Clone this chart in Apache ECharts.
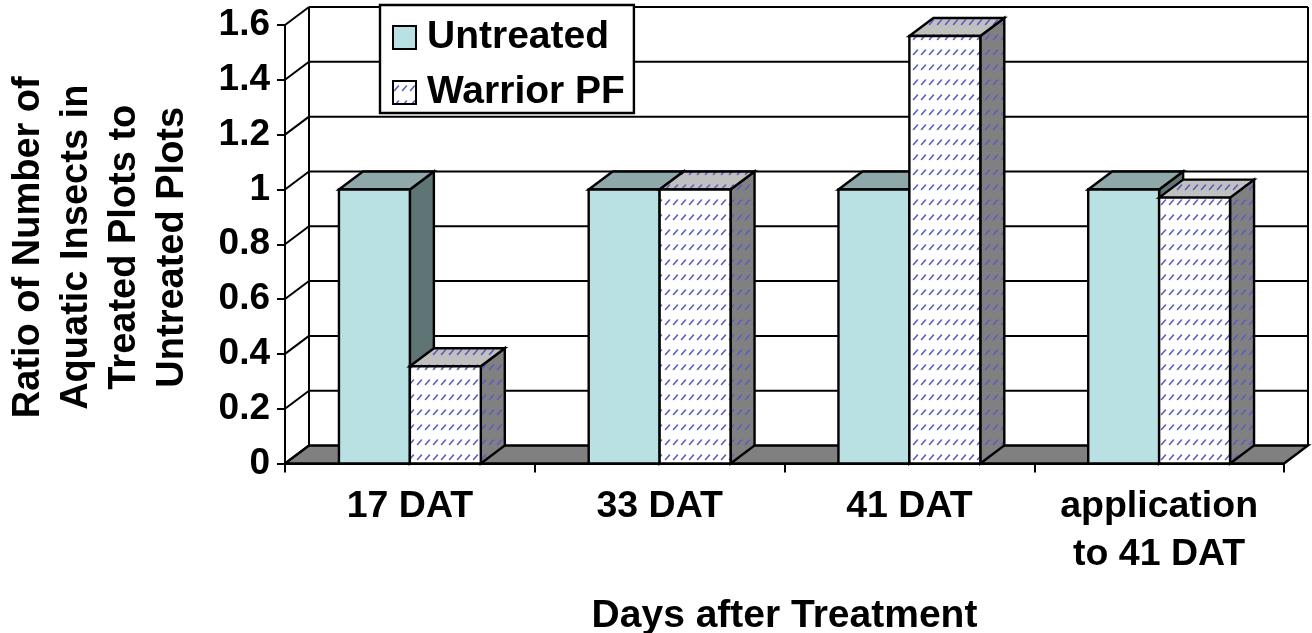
<!DOCTYPE html>
<html><head><meta charset="utf-8">
<style>html,body{margin:0;padding:0;background:#fff}#c{width:1312px;height:633px}</style>
<script src="https://cdn.jsdelivr.net/npm/echarts@6/dist/echarts.min.js"></script>
</head><body><div id="c"></div>
<script>
const categories = ['17 DAT', '33 DAT', '41 DAT', 'application\nto 41 DAT'];
const untreated = [1, 1, 1, 1];
const warriorPF = [0.355, 1, 1.56, 0.97];
const yTicks = [0, 0.2, 0.4, 0.6, 0.8, 1, 1.2, 1.4, 1.6];
const FONT = '"Liberation Sans", Arial, sans-serif';
const DX = 24, DY = -18;

function pattern(bg, dash, w, h) {
  const c = document.createElement('canvas');
  c.width = w; c.height = h;
  const g = c.getContext('2d');
  g.fillStyle = bg; g.fillRect(0, 0, w, h);
  g.strokeStyle = dash; g.lineWidth = 1.6; g.lineCap = 'round';
  g.beginPath();
  g.moveTo(1.5, 9.5); g.lineTo(5.5, 5);
  g.stroke();
  return c;
}
const pat = (bg) => ({ image: pattern(bg, '#5c5cc0', 8, 15), repeat: 'repeat' });
const frontPat = pat('#ffffff'), topPat = pat('#c0c0c0'), sidePat = pat('#808080');
const edge = { stroke: '#000', lineWidth: 2.4, lineJoin: 'miter' };

function bar3d(values, offset, fills) {
  return function (params, api) {
    const i = params.dataIndex;
    const band = api.size([1, 0])[0];
    const w = band * 0.284;
    const t = api.coord([i, values[i]]);
    const b = api.coord([i, 0]);
    const x0 = t[0] + offset * w, x1 = x0 + w, yt = t[1], yb = b[1];
    const poly = (pts, fill) => ({ type: 'polygon', shape: { points: pts }, style: Object.assign({ fill }, edge) });
    return { type: 'group', children: [
      poly([[x1, yt], [x1 + DX, yt + DY], [x1 + DX, yb + DY], [x1, yb]], fills.side),
      poly([[x0, yt], [x0 + DX, yt + DY], [x1 + DX, yt + DY], [x1, yt]], fills.top),
      poly([[x0, yt], [x1, yt], [x1, yb], [x0, yb]], fills.front)
    ] };
  };
}

const option = {
  animation: false,
  backgroundColor: '#fff',
  textStyle: { fontFamily: FONT },
  grid: { left: 285, right: 28, top: 25, height: 438.5, containLabel: false, outerBoundsMode: 'none' },
  legend: {
    left: 380, top: 5, orient: 'vertical', z: 20,
    backgroundColor: '#fff', borderColor: '#000', borderWidth: 2.4,
    padding: [13, 9, 1, 12], itemGap: 16, itemWidth: 23, itemHeight: 23,
    selectedMode: false,
    textStyle: { fontFamily: FONT, fontWeight: 'bold', fontSize: 39, color: '#000', padding: [6, 0, 0, 6] },
    data: [
      { name: 'Untreated', icon: 'rect', itemStyle: { color: '#b9e0e3', borderColor: '#000', borderWidth: 2 } },
      { name: 'Warrior PF', icon: 'rect', itemStyle: { color: frontPat, borderColor: '#000', borderWidth: 2 } }
    ]
  },
  xAxis: {
    type: 'category', data: categories, boundaryGap: true,
    axisLine: { show: true, lineStyle: { color: '#000', width: 2 } },
    axisTick: { show: true, alignWithLabel: false, length: 9, lineStyle: { color: '#000', width: 2 } },
    axisLabel: { interval: 0, margin: 19, fontFamily: FONT, fontWeight: 'bold', fontSize: 37.5, color: '#000', lineHeight: 48 },
    name: 'Days after Treatment', nameLocation: 'middle', nameGap: 133,
    nameTextStyle: { fontFamily: FONT, fontWeight: 'bold', fontSize: 39, color: '#000' },
    z: 5
  },
  yAxis: {
    type: 'value', min: 0, max: 1.6, interval: 0.2,
    axisLine: { show: true, lineStyle: { color: '#000', width: 2 } },
    axisTick: { show: true, length: 8, lineStyle: { color: '#000', width: 2 } },
    splitLine: { show: false },
    axisLabel: { margin: 15, fontFamily: FONT, fontWeight: 'bold', fontSize: 37, color: '#000', padding: [6, 0, 0, 0],
      formatter: v => String(Math.round(v * 10) / 10) },
    name: 'Ratio of Number of\nAquatic Insects in\nTreated Plots to\nUntreated Plots',
    nameLocation: 'middle', nameRotate: 90, nameGap: 88,
    nameTextStyle: { fontFamily: FONT, fontWeight: 'bold', fontSize: 38, color: '#000', lineHeight: 48, align: 'center', padding: [0, 6, 0, 0] },
    z: 5
  },
  series: [
    {
      name: 'wall', type: 'custom', silent: true, z: 1, data: yTicks,
      renderItem(params, api) {
        const v = yTicks[params.dataIndex];
        const band = api.size([1, 0])[0];
        const left = api.coord([0, v])[0] - band / 2;
        const right = left + band * categories.length;
        const y = api.coord([0, v])[1];
        const kids = [
          { type: 'line', shape: { x1: left, y1: y, x2: left + DX, y2: y + DY }, style: { stroke: '#000', lineWidth: 2 } }
        ];
        if (v === 0) {
          kids.unshift({ type: 'polygon', shape: { points: [[left, y], [left + DX, y + DY], [right + DX, y + DY], [right, y]] },
            style: Object.assign({ fill: '#808080' }, edge) });
          const top = api.coord([0, yTicks[yTicks.length - 1]])[1];
          kids.push({ type: 'line', shape: { x1: left + DX, y1: y + DY, x2: left + DX, y2: top + DY }, style: { stroke: '#000', lineWidth: 2 } });
          kids.push({ type: 'line', shape: { x1: right + DX, y1: y + DY, x2: right + DX, y2: top + DY }, style: { stroke: '#000', lineWidth: 2 } });
        } else {
          kids.push({ type: 'line', shape: { x1: left + DX, y1: y + DY, x2: right + DX, y2: y + DY }, style: { stroke: '#000', lineWidth: 2 } });
        }
        return { type: 'group', children: kids };
      }
    },
    {
      name: 'Untreated', type: 'custom', z: 2, data: untreated,
      itemStyle: { color: '#b9e0e3' },
      renderItem: bar3d(untreated, -1, { front: '#b9e0e3', top: '#8fa8aa', side: '#5f7475' })
    },
    {
      name: 'Warrior PF', type: 'custom', z: 3, data: warriorPF,
      itemStyle: { color: frontPat },
      renderItem: bar3d(warriorPF, 0, { front: frontPat, top: topPat, side: sidePat })
    }
  ]
};
const chart = echarts.init(document.getElementById('c'), null, { renderer: 'canvas' });
chart.setOption(option);
</script></body></html>
